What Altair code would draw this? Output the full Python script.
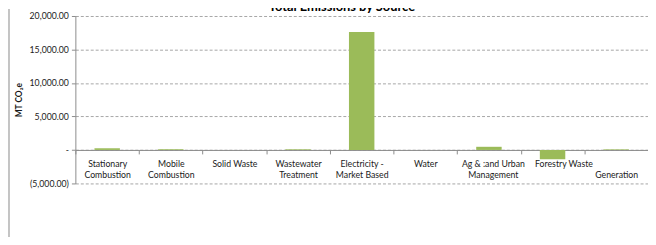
import altair as alt
import pandas as pd

chart_title = "Total Emissions by Source"
categories = [
    "Stationary Combustion",
    "Mobile Combustion",
    "Solid Waste",
    "Wastewater Treatment",
    "Electricity - Market Based",
    "Water",
    "Ag & :and Management",
    "Urban Forestry",
    "Waste Generation",
]
label_lines = [
    ["Stationary", "Combustion"],
    ["Mobile", "Combustion"],
    ["Solid Waste"],
    ["Wastewater", "Treatment"],
    ["Electricity -", "Market Based"],
    ["Water"],
    ["Ag & :and Urban", "Management"],
    ["Forestry Waste"],
    ["", "Generation"],
]
emissions = [250, 110, 0, 100, 17600, 0, 470, -1400, 90]

y_min, y_max, y_step = -5000, 20000, 5000
y_ticks = list(range(y_min, y_max + 1, y_step))

df = pd.DataFrame({"source": categories, "value": emissions})

W, H = 578, 169
PAD_L, PAD_T = 68, 7
zero_offset = -H * (0 - y_min) / (y_max - y_min)

label_map = "{" + ",".join(
    '"%s": %s' % (c, "[" + ",".join('"%s"' % s for s in l) + "]")
    for c, l in zip(categories, label_lines)
) + "}"

FONT = "Lato"
TEXT = "#1a1a1a"

bars = alt.Chart(df).mark_bar(
    color="#9BBB59", width=alt.RelativeBandSize(0.4)
).encode(
    x=alt.X(
        "source:N",
        sort=categories,
        scale=alt.Scale(paddingInner=0, paddingOuter=0),
        axis=alt.Axis(
            title=None,
            offset=zero_offset,
            domainColor="#8c8c8c",
            tickColor="#8c8c8c",
            tickSize=4,
            tickBand="extent",
            labelAngle=0,
            labelFont=FONT,
            labelFontSize=8.8,
            labelColor=TEXT,
            labelPadding=6,
            labelLineHeight=11,
            labelBaseline="top",
            labelOffset={
                "condition": [
                    {"test": "datum.value === 'Ag & :and Management'", "value": 4},
                    {"test": "datum.value === 'Urban Forestry'", "value": 11},
                ],
                "value": 0,
            },
            labelExpr=label_map + "[datum.value]",
        ),
    ),
    y=alt.Y(
        "value:Q",
        scale=alt.Scale(domain=[y_min, y_max], nice=False),
        axis=alt.Axis(
            values=y_ticks,
            title="MT CO₂e",
            titleFont=FONT,
            titleFontSize=8.5,
            titleFontWeight="bold",
            titleColor=TEXT,
            titlePadding=6,
            labelFont=FONT,
            labelFontSize=8.8,
            labelColor=TEXT,
            labelPadding=3,
            labelExpr="datum.value == 0 ? '-' : (datum.value < 0 ? '(' + format(-datum.value, ',.2f') + ')' : format(datum.value, ',.2f'))",
            domainColor="#8c8c8c",
            tickColor="#8c8c8c",
            tickSize=4,
            grid=True,
            gridColor="#a6a6a6",
            gridDash=[3, 2],
            gridWidth=1,
        ),
    ),
)

one = pd.DataFrame({"v": [0]})

border = alt.Chart(one).mark_rule(
    color="#c4c4c4", strokeWidth=2
).encode(
    x=alt.value(-PAD_L + 1),
    y=alt.value(-PAD_T),
    y2=alt.value(H + 60),
)

title_text = alt.Chart(one).mark_text(
    font=FONT, fontSize=13, fontWeight="bold", color="#000000",
    align="center", baseline="alphabetic",
).encode(
    x=alt.value(W / 2 - 20),
    y=alt.value(-5),
    text=alt.value(chart_title),
)

chart = alt.layer(border, title_text, bars).properties(
    width=W,
    height=H,
    autosize=alt.AutoSizeParams(type="none"),
    padding={"left": PAD_L, "top": PAD_T, "right": 0, "bottom": 53},
).configure_view(stroke=None)

chart.save("out.html", embed_options={"renderer": "svg", "actions": False})
